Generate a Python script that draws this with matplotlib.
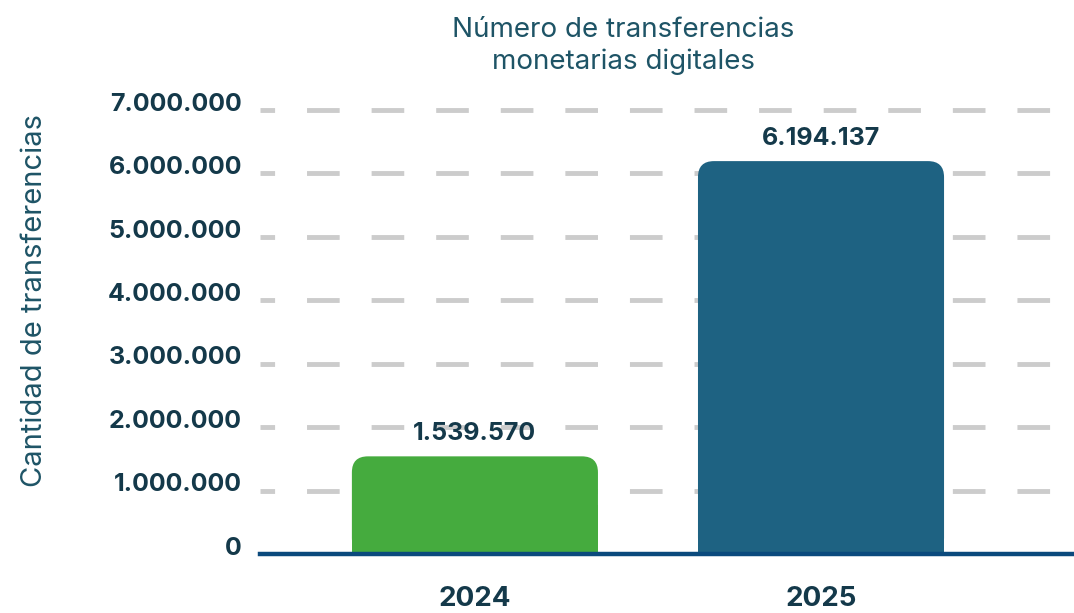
import matplotlib
matplotlib.use("Agg")
import matplotlib.pyplot as plt
import matplotlib.transforms as mtransforms
from matplotlib.patches import FancyBboxPatch, Rectangle

# Data
years = ["2024", "2025"]
transfers = [1539570, 6194137]
bar_colors = ["#45ab3e", "#1e6282"]
y_ticks = [0, 1000000, 2000000, 3000000, 4000000, 5000000, 6000000, 7000000]
y_tick_labels = ["0", "1.000.000", "2.000.000", "3.000.000", "4.000.000",
                 "5.000.000", "6.000.000", "7.000.000"]
value_labels = ["1.539.570", "6.194.137"]

plt.rcParams["font.family"] = ["Inter", "DejaVu Sans"]
plt.rcParams["lines.scale_dashes"] = False

DARK = "#14394a"
TEAL = "#1e5466"

W, H = 1074, 613
fig = plt.figure(figsize=(W / 100, H / 100), dpi=100)
ax_left, ax_right = 260 / W, 1.0
ax_bottom = (H - 554) / H
ymax = 7200000
px_per_unit = (554 - 110) / 7000000
ax_top_px = 554 - ymax * px_per_unit
ax = fig.add_axes([ax_left, ax_bottom, ax_right - ax_left, (554 - ax_top_px) / H])

x = list(range(len(years)))
bar_w = 0.711
ax.set_xlim(-0.621, 1.731)
ax.set_ylim(0, ymax)

# dashed horizontal guides
for t in y_ticks[1:]:
    ax.axhline(t, color="#cccccc", lw=3.5, zorder=1,
               linestyle=(13, (23.5, 23.0)))

# bars with rounded top corners
bars = ax.bar(x, transfers, width=bar_w, color=bar_colors, zorder=2)
fig.canvas.draw()
xpp = (ax.get_xlim()[1] - ax.get_xlim()[0]) / ax.bbox.width
ypp = (ax.get_ylim()[1] - ax.get_ylim()[0]) / ax.bbox.height
radius_px = 16
for b, c in zip(bars, bar_colors):
    b.set_visible(False)
    x0, w, h = b.get_x(), b.get_width(), b.get_height()
    r = radius_px * xpp
    rounded = FancyBboxPatch((x0, 0), w, h,
                             boxstyle=f"round,pad=0,rounding_size={r}",
                             mutation_aspect=ypp / xpp,
                             facecolor=c, edgecolor="none", zorder=2)
    ax.add_patch(rounded)
    ax.add_patch(Rectangle((x0, 0), w, h / 2, facecolor=c,
                           edgecolor="none", zorder=2))

# baseline
ax.axhline(0, color="#0b4a7d", lw=3.2, zorder=3, clip_on=False)

# value labels
for xi, v, lab in zip(x, transfers, value_labels):
    ax.annotate(lab, (xi, v), xytext=(0, 8), textcoords="offset points",
                ha="center", va="bottom", fontsize=18, fontweight="bold",
                color=DARK, zorder=4)

for s in ax.spines.values():
    s.set_visible(False)
ax.tick_params(axis="both", length=0)

ax.set_xticks(x)
ax.set_xticklabels(years, fontsize=20, fontweight="bold", color=DARK)
ax.tick_params(axis="x", pad=23)

ax.set_yticks(y_ticks)
ax.set_yticklabels(y_tick_labels, fontsize=18, fontweight="bold", color=DARK)
ax.tick_params(axis="y", pad=13)
shift = mtransforms.ScaledTranslation(0, 6 / 72, fig.dpi_scale_trans)
for lbl in ax.get_yticklabels():
    lbl.set_transform(lbl.get_transform() + shift)

fig.text(35 / W, 1 - 300 / H, "Cantidad de transferencias", rotation=90,
         ha="center", va="center", fontsize=21, color=TEAL)
fig.text(623 / W, 1 - 46 / H, "Número de transferencias\nmonetarias digitales",
         ha="center", va="center", fontsize=20, color=TEAL, linespacing=1.25)

fig.savefig("out.png", dpi=100)
